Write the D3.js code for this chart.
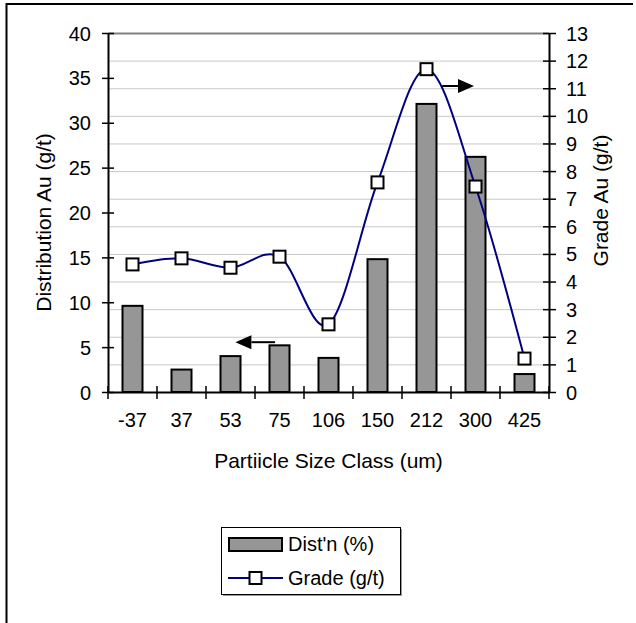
<!DOCTYPE html>
<html>
<head>
<meta charset="utf-8">
<script src="https://cdn.jsdelivr.net/npm/d3@7"></script>
<style>
  html, body { margin: 0; padding: 0; background: #fff; }
  svg { display: block; font-family: "Liberation Sans", Arial, sans-serif; }
</style>
</head>
<body>
<svg id="chart" width="636" height="623"></svg>
<script>
// Particle size classes (um) and results per class
const sizeClasses = ["-37", "37", "53", "75", "106", "150", "212", "300", "425"];
const distribution = [9.6, 2.5, 4.0, 5.2, 3.8, 14.8, 32.1, 26.2, 2.0];   // Dist'n (%), left axis
const grade = [4.62, 4.84, 4.50, 4.90, 2.45, 7.59, 11.69, 7.44, 1.21];    // Grade (g/t), right axis
const leftTicks = [0, 5, 10, 15, 20, 25, 30, 35, 40];
const rightTicks = [0, 1, 2, 3, 4, 5, 6, 7, 8, 9, 10, 11, 12, 13];

const svg = d3.select("#chart");
const plot = { left: 108, right: 549, top: 33, bottom: 392 };

const x = d3.scaleBand().domain(sizeClasses).range([plot.left, plot.right]).padding(0);
const yL = d3.scaleLinear().domain([0, 40]).range([plot.bottom, plot.top]);
const yR = d3.scaleLinear().domain([0, 13]).range([plot.bottom, plot.top]);

// Outer chart frame
svg.append("path")
  .attr("d", `M6.5,640 V4 H633`)
  .attr("fill", "none").attr("stroke", "#000").attr("stroke-width", 2);

// Horizontal gridlines on the grade scale
svg.append("g").selectAll("line")
  .data(rightTicks.filter(d => d > 0))
  .join("line")
  .attr("x1", plot.left).attr("x2", plot.right)
  .attr("y1", d => yR(d) + 0.5).attr("y2", d => yR(d) + 0.5)
  .attr("stroke", d => d === 13 ? "#808080" : "#c8c8c8")
  .attr("stroke-width", d => d === 13 ? 2 : 1);

// Distribution bars
const barW = 20;
svg.append("g").selectAll("rect")
  .data(distribution)
  .join("rect")
  .attr("x", (d, i) => x(sizeClasses[i]) + x.bandwidth() / 2 - barW / 2)
  .attr("y", d => yL(d))
  .attr("width", barW)
  .attr("height", d => yL(0) - yL(d))
  .attr("fill", "#969696")
  .attr("stroke", "#000")
  .attr("stroke-width", 2);

// Axes
const fontSize = 20;
function styleAxis(g) {
  g.select(".domain").attr("stroke", "#000").attr("stroke-width", 2);
  g.selectAll(".tick line").attr("stroke", "#000").attr("stroke-width", 1.5);
  g.selectAll(".tick text").attr("fill", "#000").attr("font-size", fontSize)
    .attr("font-family", "'Liberation Sans', Arial, sans-serif");
}

const axL = svg.append("g").attr("transform", `translate(${plot.left},0)`)
  .call(d3.axisLeft(yL).tickValues(leftTicks).tickSize(6).tickSizeOuter(0));
axL.selectAll(".tick line").attr("x1", 6).attr("x2", -6);
axL.selectAll(".tick text").attr("x", -17).attr("dy", "0.35em");
styleAxis(axL);

const axR = svg.append("g").attr("transform", `translate(${plot.right},0)`)
  .call(d3.axisRight(yR).tickValues(rightTicks).tickSize(6).tickSizeOuter(0));
axR.selectAll(".tick line").attr("x1", -6).attr("x2", 7);
axR.selectAll(".tick text").attr("x", 17).attr("dy", "0.35em");
styleAxis(axR);

const axB = svg.append("g").attr("transform", `translate(0,${plot.bottom})`)
  .call(d3.axisBottom(x).tickSize(0).tickSizeOuter(0));
axB.selectAll(".tick text").attr("y", 21).attr("dy", "0.71em");
styleAxis(axB);
// category boundary ticks
axB.append("g").selectAll("line")
  .data(sizeClasses.map(c => x(c)).concat([plot.right]))
  .join("line")
  .attr("x1", d => d).attr("x2", d => d)
  .attr("y1", -6).attr("y2", 7)
  .attr("stroke", "#000").attr("stroke-width", 1.5);

// Grade curve
const line = d3.line()
  .x((d, i) => x(sizeClasses[i]) + x.bandwidth() / 2)
  .y(d => yR(d))
  .curve(d3.curveCatmullRom.alpha(0));
svg.append("path")
  .datum(grade)
  .attr("d", line)
  .attr("fill", "none")
  .attr("stroke", "#000080")
  .attr("stroke-width", 2);

const mk = 12;
svg.append("g").selectAll("rect")
  .data(grade)
  .join("rect")
  .attr("x", (d, i) => x(sizeClasses[i]) + x.bandwidth() / 2 - mk / 2)
  .attr("y", d => yR(d) - mk / 2)
  .attr("width", mk).attr("height", mk)
  .attr("fill", "#fff").attr("stroke", "#000").attr("stroke-width", 2);

// Axis-pointer arrows
function arrow(x0, x1, yPos) {
  const dir = Math.sign(x1 - x0);
  const headLen = 16, headH = 7;
  const base = x1 - dir * headLen;
  svg.append("line")
    .attr("x1", x0).attr("x2", base).attr("y1", yPos).attr("y2", yPos)
    .attr("stroke", "#000").attr("stroke-width", 2);
  svg.append("path")
    .attr("d", `M${x1},${yPos} L${base},${yPos - headH} L${base},${yPos + headH} Z`)
    .attr("fill", "#000");
}
const bw = x.bandwidth();
arrow(x("75") + bw * 0.41, x("53") + bw * 0.6, yL(5.55));
arrow(x("212") + bw * 0.82, x("300") + bw * 0.47, yR(11.08));

// Axis titles
svg.append("text")
  .attr("transform", `translate(51,${(plot.top + plot.bottom) / 2 + 10}) rotate(-90)`)
  .attr("text-anchor", "middle").attr("font-size", 21).attr("fill", "#000")
  .text("Distribution Au (g/t)");
svg.append("text")
  .attr("transform", `translate(608,${(plot.top + plot.bottom) / 2 - 12}) rotate(-90)`)
  .attr("text-anchor", "middle").attr("font-size", 21).attr("fill", "#000")
  .text("Grade Au (g/t)");
svg.append("text")
  .attr("x", (plot.left + plot.right) / 2).attr("y", 468)
  .attr("text-anchor", "middle").attr("font-size", 21).attr("fill", "#000")
  .text("Partiicle Size Class (um)");

// Legend
const lg = svg.append("g");
lg.append("rect").attr("x", 223).attr("y", 529).attr("width", 179).attr("height", 67)
  .attr("fill", "#9a9a9a");
lg.append("rect").attr("x", 221.5).attr("y", 527.5).attr("width", 179).attr("height", 67)
  .attr("fill", "#fff").attr("stroke", "#000").attr("stroke-width", 1);
lg.append("rect").attr("x", 229).attr("y", 538).attr("width", 53).attr("height", 13)
  .attr("fill", "#969696").attr("stroke", "#000").attr("stroke-width", 2);
lg.append("text").attr("x", 288).attr("y", 551).attr("font-size", 20).attr("fill", "#000")
  .text("Dist'n (%)");
lg.append("line").attr("x1", 228).attr("x2", 283).attr("y1", 578).attr("y2", 578)
  .attr("stroke", "#000080").attr("stroke-width", 2);
lg.append("rect").attr("x", 255.5 - mk / 2).attr("y", 578 - mk / 2).attr("width", mk).attr("height", mk)
  .attr("fill", "#fff").attr("stroke", "#000").attr("stroke-width", 2);
lg.append("text").attr("x", 288).attr("y", 585).attr("font-size", 20).attr("fill", "#000")
  .text("Grade (g/t)");
</script>
</body>
</html>
